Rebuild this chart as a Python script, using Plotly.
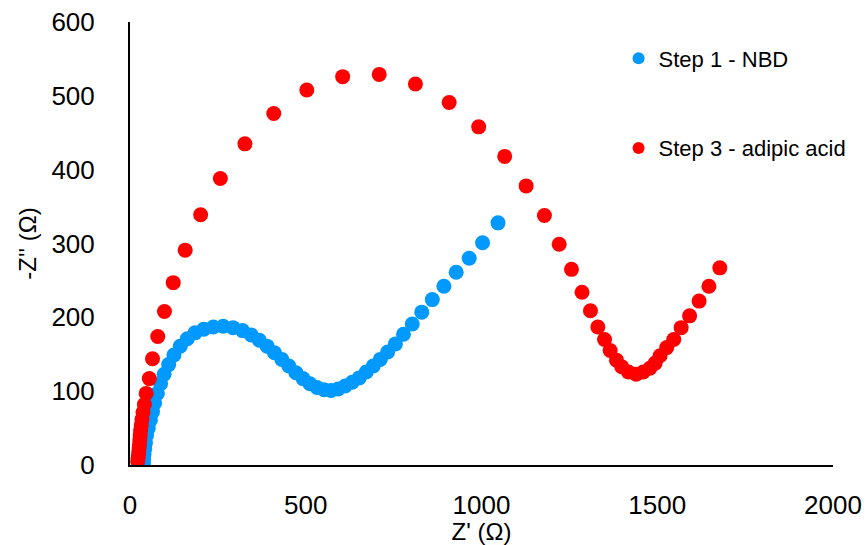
import plotly.graph_objects as go

# Nyquist data, Z' and -Z'' in ohms
nbd_zre = [38, 39, 40, 42, 44, 47, 52, 58, 64, 70, 78, 87, 97, 110, 125, 143, 163,
           185, 210, 237, 265, 293, 320, 345, 368, 390, 411, 432, 452, 472, 492,
           512, 532, 552, 572, 592, 612, 632, 652, 672, 692, 712, 733, 755, 778,
           803, 830, 860, 893, 928, 965, 1003, 1047]
nbd_zim = [2, 8, 15, 22, 30, 40, 50, 61, 72, 84, 97, 110, 123, 136, 149, 161, 171,
           179, 184, 187, 188, 186, 182, 176, 169, 161, 152, 143, 134, 125, 117,
           110, 105, 102, 101, 103, 107, 112, 118, 126, 134, 143, 153, 164, 177,
           191, 207, 224, 242, 261, 280, 301, 328]

adipic_zre = [22, 23, 24, 25, 26, 27, 28, 29, 30, 32, 34, 37, 41, 46, 55, 64, 79,
              98, 123, 157, 201, 257, 327, 409, 503, 605, 709, 812, 908, 992, 1066,
              1127, 1179, 1221, 1256, 1286, 1310, 1331, 1350, 1366, 1384, 1399,
              1418, 1440, 1460, 1479, 1494, 1508, 1527, 1547, 1568, 1592, 1619,
              1647, 1678]
adipic_zim = [5, 9, 13, 18, 23, 28, 34, 40, 47, 54, 62, 71, 82, 97, 117, 144, 174,
              208, 247, 291, 339, 388, 435, 476, 508, 526, 529, 516, 491, 458, 418,
              378, 338, 299, 265, 234, 209, 187, 170, 155, 142, 133, 126, 123, 126,
              131, 138, 148, 159, 170, 186, 202, 222, 242, 267]

FONT = "Liberation Sans"

fig = go.Figure()
fig.add_trace(go.Scatter(
    x=nbd_zre, y=nbd_zim, mode="markers", name="Step 1 - NBD",
    legendgroup="a",
    marker=dict(color="#0099FF", size=15, line=dict(width=0)),
))
fig.add_trace(go.Scatter(
    x=adipic_zre, y=adipic_zim, mode="markers", name="Step 3 - adipic acid",
    legendgroup="b",
    marker=dict(color="#FF0000", size=15, line=dict(width=0)),
))

fig.update_layout(
    width=868, height=545,
    margin=dict(l=130, r=35, t=22, b=80),
    plot_bgcolor="white", paper_bgcolor="white",
    font=dict(family=FONT, color="black"),
    showlegend=True,
    legend=dict(
        x=0.695, y=0.965, xanchor="left", yanchor="top",
        font=dict(family=FONT, size=22, color="black"),
        tracegroupgap=58, itemsizing="constant", itemwidth=30,
        bgcolor="rgba(0,0,0,0)",
    ),
    xaxis=dict(
        range=[0, 2000], tickvals=[0, 500, 1000, 1500, 2000],
        showgrid=False, zeroline=False, automargin=False,
        showline=True, linecolor="black", linewidth=2,
        ticks="", tickfont=dict(size=26), ticklabelstandoff=16,
        title=dict(text="Z' (Ω)", font=dict(size=24), standoff=5),
    ),
    yaxis=dict(
        range=[0, 600], tickvals=[0, 100, 200, 300, 400, 500, 600],
        showgrid=False, zeroline=False, automargin=False,
        showline=True, linecolor="black", linewidth=2,
        ticks="", tickfont=dict(size=26), ticklabelstandoff=28,
        title=dict(text="-Z'' (Ω)", font=dict(size=24), standoff=8),
    ),
)

fig.write_html("out.html")
